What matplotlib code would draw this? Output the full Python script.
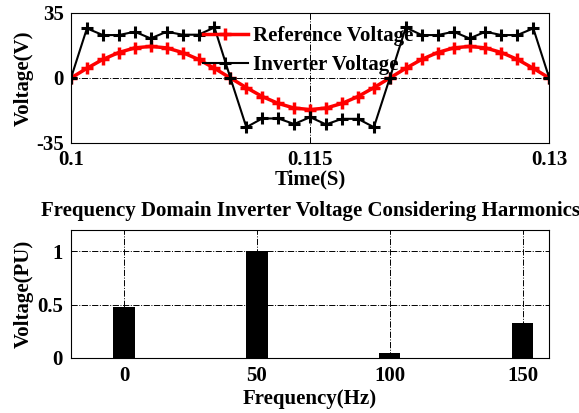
import numpy as np
import matplotlib
matplotlib.use('Agg')
import matplotlib.pyplot as plt

#%% data
t = [0.100, 0.101, 0.102, 0.103, 0.104, 0.105, 0.106, 0.107, 0.108, 0.109, 0.110,
     0.111, 0.112, 0.113, 0.114, 0.115, 0.116, 0.117, 0.118, 0.119, 0.120,
     0.121, 0.122, 0.123, 0.124, 0.125, 0.126, 0.127, 0.128, 0.129, 0.130]
v_ref = [0, 5.2, 10.0, 13.7, 16.2, 17.0, 16.2, 13.7, 10.0, 5.2, 0,
         -5.2, -10.0, -13.7, -16.2, -17.0, -16.2, -13.7, -10.0, -5.2, 0,
         5.2, 10.0, 13.7, 16.2, 17.0, 16.2, 13.7, 10.0, 5.2, 0]
v_inv = [0, 26.7, 23.1, 23.1, 24.9, 21.3, 24.9, 23.3, 23.3, 27.2, 0,
         -26.5, -21.8, -21.8, -24.8, -21.1, -25.0, -22.0, -22.0, -26.5, 0,
         27.2, 23.1, 23.1, 24.9, 21.3, 24.9, 23.1, 23.1, 26.7, 0]

freq = [0, 50, 100, 150]
mag = [0.48, 1.0, 0.045, 0.33]

time_ticks = [0.1, 0.115, 0.13]
time_labels = ['0.1', '0.115', '0.13']
volt_ticks = [-35, 0, 35]
pu_ticks = [0, 0.5, 1]
pu_labels = ['0', '0.5', '1']

#%% style
plt.rcParams['font.family'] = ['Liberation Serif', 'DejaVu Serif']
plt.rcParams['font.weight'] = 'bold'
plt.rcParams['font.size'] = 15
plt.rcParams['axes.unicode_minus'] = False
grid_kw = dict(color='black', linestyle='-.', linewidth=0.7)

fig = plt.figure(figsize=(5.79, 4.13), dpi=100)

#%% time domain
ax1 = fig.add_axes([0.1226, 0.6538, 0.826, 0.3148])
ax1.plot(t, v_ref, color='red', linewidth=2.5, marker='+', markersize=9,
         markeredgewidth=2.5, label='Reference Voltage')
ax1.plot(t, v_inv, color='black', linewidth=1.5, marker='+', markersize=9,
         markeredgewidth=2.2, label='Inverter Voltage')
ax1.set_xlim(0.1, 0.13)
ax1.set_ylim(-35, 35)
ax1.set_xticks(time_ticks)
ax1.set_xticklabels(time_labels)
ax1.set_yticks(volt_ticks)
ax1.tick_params(length=0, pad=5)
ax1.grid(True, **grid_kw)
ax1.set_xlabel('Time(S)', fontweight='bold', labelpad=0)
ax1.set_ylabel('Voltage(V)', fontweight='bold', labelpad=2)
ax1.legend(loc='upper left', bbox_to_anchor=(0.276, 0.90), frameon=False,
           numpoints=1, handlelength=2.15, handletextpad=0.25,
           borderaxespad=0, borderpad=0, labelspacing=0.45)

#%% frequency domain
ax2 = fig.add_axes([0.1226, 0.1332, 0.826, 0.31])
ax2.set_axisbelow(True)
ax2.bar(freq, mag, width=8, color='black')
ax2.set_xlim(-20, 160)
ax2.set_ylim(0, 1.2)
ax2.set_xticks(freq)
ax2.set_yticks(pu_ticks)
ax2.set_yticklabels(pu_labels)
ax2.tick_params(length=0, pad=6)
ax2.grid(True, **grid_kw)
ax2.set_xlabel('Frequency(Hz)', fontweight='bold', labelpad=2)
ax2.set_ylabel('Voltage(PU)', fontweight='bold', labelpad=2)
ax2.set_title('Frequency Domain Inverter Voltage Considering Harmonics',
              fontweight='bold', fontsize=15, pad=10)

fig.savefig('out.png', dpi=100)
